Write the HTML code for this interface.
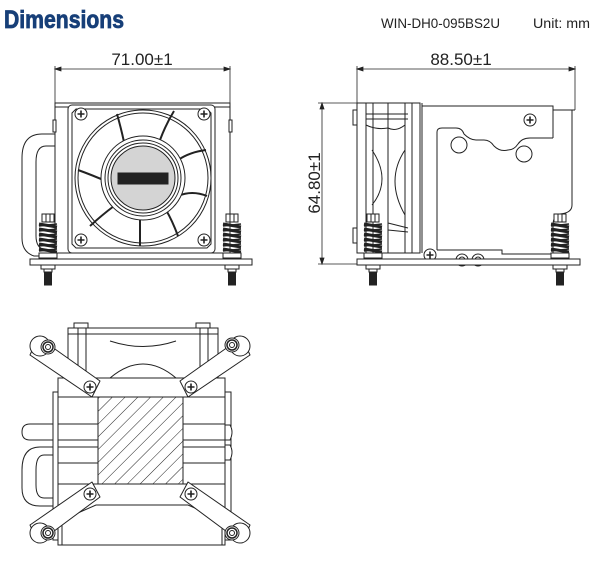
<!DOCTYPE html>
<html><head><meta charset="utf-8"><style>
html,body{margin:0;padding:0;background:#fff;}
svg{display:block;}
</style></head><body>
<svg width="600" height="562" viewBox="0 0 600 562" xmlns="http://www.w3.org/2000/svg">
<defs>
<g id="spring" fill="#fff" stroke="#222" stroke-width="1">
  <rect x="-6" y="214" width="12" height="8"/>
  <line x1="-2" y1="214" x2="-2" y2="222"/><line x1="2" y1="214" x2="2" y2="222"/>
  <path d="M-9 224 L9 227 M-9 229 L9 232 M-9 234 L9 237 M-9 239 L9 242 M-9 244 L9 247 M-9 249 L9 252" stroke-width="3"/>
  <path d="M-9 226 L9 224 M-9 231 L9 229 M-9 236 L9 234 M-9 241 L9 239 M-9 246 L9 244 M-9 251 L9 249" stroke-width="1.5"/>
  <rect x="-9" y="253" width="18" height="5"/>
  <rect x="-7" y="265" width="14" height="4"/>
  <rect x="-4" y="269" width="8" height="3"/>
  <rect x="-3.5" y="272" width="7" height="13" fill="#222"/>
</g>
<g id="ps" fill="#fff" stroke="#222" stroke-width="1">
  <circle r="6"/><path d="M-3.5 0H3.5M0 -3.5V3.5" stroke-width="1.6"/>
</g>
<g id="bolt" fill="#fff" stroke="#222" stroke-width="1">
  <circle r="7"/><circle r="5" stroke-width="1.5"/><circle r="2.5"/>
</g>
<pattern id="hatch" width="9" height="9" patternUnits="userSpaceOnUse" patternTransform="rotate(45)">
  <line x1="0" y1="0" x2="0" y2="9" stroke="#222" stroke-width="1"/>
</pattern>
</defs>

<!-- Header -->
<text x="4" y="28" font-family="Liberation Sans, sans-serif" font-weight="bold" font-size="25" fill="#173f78" stroke="#173f78" stroke-width="0.8" textLength="120" lengthAdjust="spacingAndGlyphs">Dimensions</text>
<text x="381" y="28" font-family="Liberation Sans, sans-serif" font-size="14" fill="#222" textLength="119" lengthAdjust="spacingAndGlyphs">WIN-DH0-095BS2U</text>
<text x="533" y="28" font-family="Liberation Sans, sans-serif" font-size="14" fill="#222" textLength="57" lengthAdjust="spacingAndGlyphs">Unit: mm</text>

<g font-family="Liberation Sans, sans-serif" font-size="17" fill="#222">
<text x="142" y="65" text-anchor="middle">71.00±1</text>
<text x="461" y="65" text-anchor="middle">88.50±1</text>
<text transform="translate(320,183) rotate(-90)" text-anchor="middle">64.80±1</text>
</g>

<g stroke="#222" stroke-width="0.8" fill="none">
<line x1="55" y1="69" x2="230" y2="69"/><line x1="55" y1="66" x2="55" y2="104"/><line x1="230" y1="66" x2="230" y2="104"/>
<path d="M55 69l6-2v4z M230 69l-6-2v4z" fill="#222"/>
<line x1="357" y1="69" x2="575" y2="69"/><line x1="357" y1="66" x2="357" y2="104"/><line x1="575" y1="66" x2="575" y2="110"/>
<path d="M357 69l6-2v4z M575 69l-6-2v4z" fill="#222"/>
<line x1="322" y1="103" x2="322" y2="264"/><line x1="318" y1="103" x2="357" y2="103"/><line x1="318" y1="264" x2="357" y2="264"/>
<path d="M322 103l-2 6h4z M322 264l-2-6h4z" fill="#222"/>
</g>

<!-- FRONT VIEW -->
<g stroke="#222" stroke-width="1" fill="#fff">
  <path d="M55 134 H42 Q22 134 22 158 V238 Q22 252 34 256 H55"/>
  <path d="M55 146 H46 Q36 146 36 162 V236 Q36 248 45 250 H55"/>
  <rect x="55" y="103" width="175" height="150"/>
  <line x1="55" y1="107" x2="230" y2="107"/>
  <rect x="68" y="105" width="147" height="148" rx="4"/>
  <path d="M72 113 L76 109 H207 L211 113 V244 L207 248 H76 L72 244Z"/>
  <circle cx="143" cy="178" r="68"/>
  <circle cx="143" cy="178" r="65"/>
  <g stroke-width="2">
    <path d="M117 114 Q121 128 124 142"/>
    <path d="M174 111 Q166 124 160 140"/>
    <path d="M206 150 Q190 152 178 160"/>
    <path d="M207 196 Q192 190 178 196"/>
    <path d="M178 236 Q172 220 166 210"/>
    <path d="M140 246 Q140 230 140 216"/>
    <path d="M90 226 Q102 215 114 206"/>
    <path d="M78 170 Q92 175 108 182"/>
  </g>
  <circle cx="143" cy="178" r="42"/>
  <circle cx="143" cy="178" r="38"/>
  <circle cx="143" cy="178" r="35"/>
  <circle cx="143" cy="178" r="32" fill="#d4d4d4"/>
  <rect x="118" y="173" width="50" height="11" fill="#222"/>
  <use href="#ps" x="81" y="114"/><use href="#ps" x="204" y="114"/>
  <use href="#ps" x="81" y="240"/><use href="#ps" x="204" y="240"/>
  <rect x="30" y="259" width="222" height="6"/>
  <line x1="55" y1="253" x2="55" y2="259"/><line x1="230" y1="253" x2="230" y2="259"/>
  <rect x="53" y="120" width="3" height="12"/><rect x="229" y="120" width="3" height="12"/>
</g>
<use href="#spring" x="48" y="0"/>
<use href="#spring" x="232" y="0"/>

<!-- SIDE VIEW -->
<g stroke="#222" stroke-width="1" fill="#fff">
  <rect x="357" y="103" width="63" height="150"/>
  <rect x="353" y="110" width="4" height="15"/><rect x="353" y="228" width="4" height="15"/>
  <line x1="366" y1="103" x2="366" y2="253"/><line x1="373" y1="103" x2="373" y2="253"/>
  <line x1="388" y1="103" x2="388" y2="253"/><line x1="405" y1="103" x2="405" y2="253"/><line x1="412" y1="103" x2="412" y2="253"/>
  <line x1="366" y1="114" x2="408" y2="114"/><line x1="366" y1="119" x2="408" y2="119"/>
  <path d="M366 125 Q376 130 388 128 M405 125 Q396 132 388 128" fill="none"/>
  <path d="M372 150 Q392 180 372 205 M405 150 Q385 180 405 215" fill="none"/>
  <path d="M388 223 L408 228 M388 230 L408 232"/>
  <path d="M422 103 V253 M422 106 H553 V138 M553 110 H575 M572 110 V205 Q572 213 560 214 Q553 216 553 225 V253" fill="none"/>
  <path d="M437 250 V132 Q437 128 442 128 H456 Q462 128 464 134 Q470 140 476 140 H484 Q490 140 494 146 Q500 152 508 150 Q514 150 518 144 Q522 138 530 138 H553" fill="none"/>
  <circle cx="459" cy="145" r="8"/><circle cx="524" cy="154" r="8"/>
  <use href="#ps" x="530" y="120"/>
  <path d="M437 250 H502 V254 H553" fill="none"/>
  <circle cx="462" cy="260" r="6"/><circle cx="462" cy="260" r="3"/>
  <circle cx="478" cy="260" r="6"/><circle cx="478" cy="260" r="3"/>
  <use href="#ps" x="430" y="255"/>
  <rect x="357" y="259" width="223" height="6"/>
</g>
<use href="#spring" x="373" y="0"/>
<use href="#spring" x="560" y="0"/>

<!-- BOTTOM VIEW -->
<g stroke="#222" stroke-width="1" fill="#fff">
  <path d="M58 424 H30 Q22 424 22 432 Q22 440 30 440 H58"/>
  <path d="M58 447 H40 Q22 447 22 470 V488 Q22 506 40 506 H58"/>
  <path d="M58 455 H44 Q36 455 36 470 V485 Q36 498 44 498 H58"/>
  <rect x="225" y="392" width="6" height="148"/>
  <path d="M225 425 H230 Q234 432 230 440 H225 M225 445 H230 Q234 452 230 460 H225"/>
  <rect x="53" y="392" width="5" height="148"/>
  <rect x="68" y="328" width="150" height="50"/>
  <rect x="74" y="323" width="14" height="5"/><rect x="196" y="323" width="14" height="5"/>
  <line x1="78" y1="328" x2="78" y2="378"/><line x1="86" y1="328" x2="86" y2="378"/>
  <line x1="200" y1="328" x2="200" y2="378"/><line x1="208" y1="328" x2="208" y2="378"/>
  <path d="M68 334 H218 M110 341 Q143 352 176 341" fill="none"/>
  <path d="M110 378 Q143 350 176 378" fill="none"/>
  <rect x="58" y="378" width="167" height="167"/>
  <line x1="58" y1="397" x2="225" y2="397"/>
  <line x1="58" y1="484" x2="225" y2="484"/>
  <line x1="58" y1="424" x2="98" y2="424"/><line x1="58" y1="440" x2="98" y2="440"/>
  <line x1="58" y1="447" x2="98" y2="447"/><line x1="58" y1="463" x2="98" y2="463"/>
  <line x1="183" y1="424" x2="225" y2="424"/><line x1="183" y1="440" x2="225" y2="440"/>
  <line x1="183" y1="447" x2="225" y2="447"/><line x1="183" y1="463" x2="225" y2="463"/>
  <path d="M62 545 V520 L96 505 H188 L222 520 V545" fill="none"/>
  <rect x="98" y="397" width="85" height="87" fill="url(#hatch)"/>
  <rect x="98" y="397" width="85" height="87" fill="none"/>
  <g stroke-linejoin="round">
    <path d="M38 337 L100 381 L92 397 L30 355 Z"/>
    <path d="M242 337 L180 381 L188 397 L250 355 Z"/>
    <path d="M38 543 L100 497 L92 482 L30 525 Z"/>
    <path d="M242 543 L180 497 L188 482 L250 525 Z"/>
  </g>
  <circle cx="40" cy="346" r="10"/><circle cx="240" cy="346" r="10"/>
  <circle cx="40" cy="533" r="10"/><circle cx="240" cy="533" r="10"/>
  <use href="#bolt" x="48" y="347"/><use href="#bolt" x="232" y="345"/>
  <use href="#bolt" x="48" y="533"/><use href="#bolt" x="232" y="533"/>
  <use href="#ps" x="90" y="387"/><use href="#ps" x="191" y="387"/>
  <use href="#ps" x="90" y="494"/><use href="#ps" x="191" y="494"/>
</g>
</svg>
</body></html>
